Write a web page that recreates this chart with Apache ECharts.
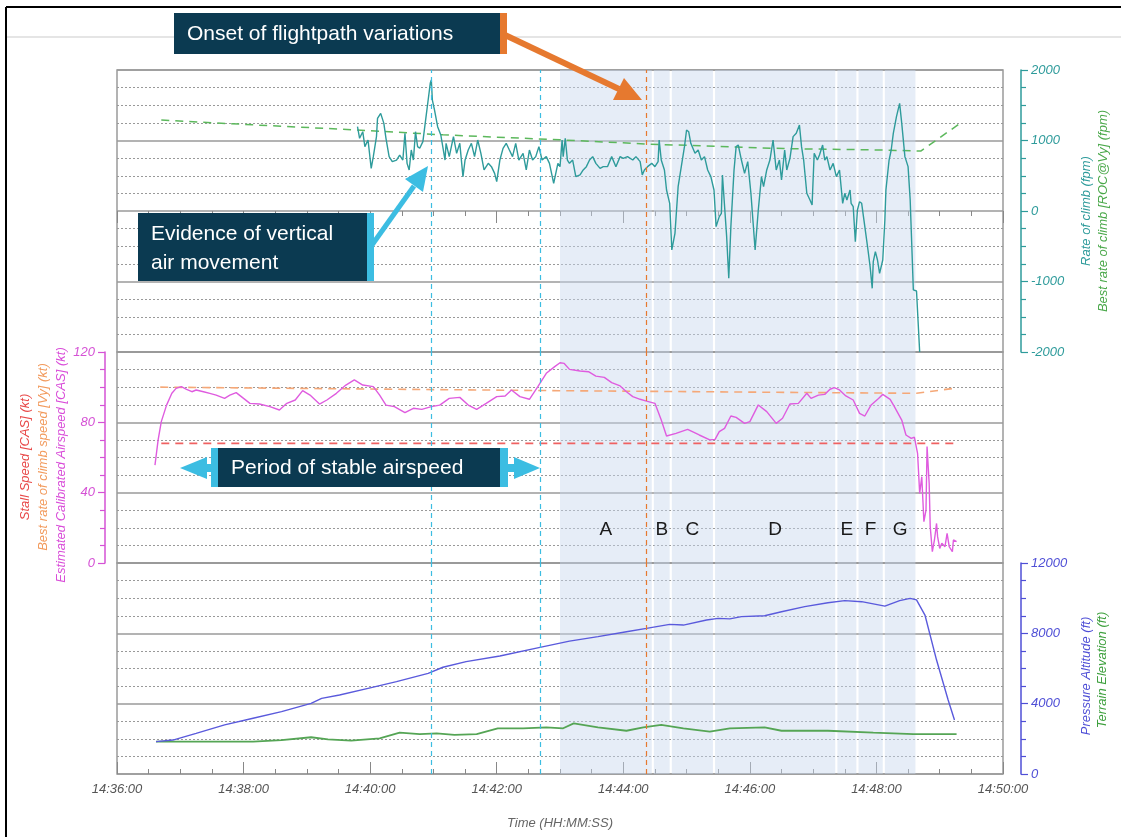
<!DOCTYPE html>
<html><head><meta charset="utf-8">
<script src="https://cdn.jsdelivr.net/npm/echarts@6/dist/echarts.min.js"></script>
<style>html,body{margin:0;padding:0;background:#fff}#c{width:1121px;height:837px}</style>
</head><body><div id="c"></div><script>
// time axis: seconds after 14:36:00
const xTickLabels = ['14:36:00','14:38:00','14:40:00','14:42:00','14:44:00','14:46:00','14:48:00','14:50:00'];

// Rate of climb (fpm)
const rocData = [
[228,1196],[230,1031],[233,1125],[235,913],[238,1007],[241,605],[243,771],[246,1054],[247,1314],[250,1385],[253,1243],[255,1031],[258,771],[261,700],[265,723],[268,794],[271,723],[273,1102],[275,676],[277,582],[279,865],[281,723],[283,1125],[285,913],[287,889],[290,984],[291,1007],[293,1338],[295,1574],[297,1811],[298,1858],[299,1574],[301,1433],[304,1196],[307,1078],[311,723],[312,960],[315,771],[319,1054],[322,818],[325,960],[328,487],[330,723],[333,865],[336,960],[339,771],[342,1007],[345,818],[348,582],[352,676],[355,629],[358,534],[360,416],[363,723],[366,889],[369,960],[372,865],[375,771],[378,960],[381,723],[385,818],[388,582],[391,865],[394,723],[397,771],[400,913],[403,723],[407,771],[410,676],[414,393],[418,676],
[420,629],[422,1007],[423,771],[425,1031],[427,723],[429,676],[432,723],[435,487],[439,511],[442,582],[445,629],[448,723],[451,771],[454,676],[458,605],[461,629],[465,629],[469,771],[473,629],[477,771],[480,747],[484,771],[489,723],[492,771],[496,700],[498,511],[500,582],[503,629],[507,676],[510,629],[513,700],[514,1007],[516,723],[519,582],[521,298],[524,109],[526,-553],[529,-317],[532,345],[535,629],[538,913],[540,1149],[542,1125],[544,960],[548,818],[551,865],[554,723],[557,771],[560,582],[563,487],[566,298],[568,-222],[571,-80],[573,-33],[574,511],[578,-364],[580,-955],[582,-222],[585,582],[587,913],[589,936],[592,723],[595,534],[598,700],[601,251],[605,-553],[608,14],[611,487],[613,345],[616,582],[619,723],[622,1007],[625,582],[628,723],[630,440],[633,865],[635,582],[638,747],[641,1055],[644,1102],[647,1220],[649,913],[651,723],[654,251],[657,156],[659,85],[661,818],[664,723],[666,794],[669,936],[671,723],[673,771],[676,582],[679,676],[682,487],[685,582],[688,109],[690,251],[692,156],[695,298],[696,109],[698,61],[700,-435],[702,14],[704,132],[706,109],[709,-222],[712,-553],[714,-789],[716,-1097],[717,-719],[719,-577],[721,-695],[723,-884],[726,-695],[728,-128],[729,298],[732,723],[734,865],[736,1102],[739,1338],[742,1527],[744,1243],[747,771],[750,629],[752,156],[754,-695],[755,-1120],[758,-1135],[759,-1135],[761,-2000]
];
// Best rate of climb [ROC@Vy] (fpm)
const bestRocData = [[42,1290],[132,1220],[227,1150],[309,1080],[420,1010],[502,950],[632,885],[727,865],[762,850],[799,1240]];
// Estimated calibrated airspeed (kt)
const casData = [
[36,55.7],[39,70],[42,80.4],[47,89.8],[52,96.5],[56,99.3],[61,100.3],[66,98.8],[71,97.4],[75,98.4],[82,97.4],[88,96.5],[94,95.5],[102,93.6],[107,95.5],[113,96.9],[120,93.6],[126,90.8],[135,90.4],[145,88.9],[154,87],[161,90.8],[169,92.7],[176,98],[183,95.5],[192,90.4],[199,92.7],[208,96.5],[217,101.2],[225,104.1],[233,101.2],[243,100.3],[249,95.5],[255,89.8],[263,88.9],[273,85.5],[281,88],[289,87.4],[298,88.9],[306,89.8],[315,93.6],[325,94.2],[333,89.8],[341,87.4],[350,90.8],[360,94.6],[368,95],[374,98.4],[382,94.6],[391,93.1],[399,100.3],[407,107.9],[415,111.7],[420,113.9],[424,113.5],[429,110.1],[439,109.2],[447,108.8],[454,106.3],[462,105.6],[469,102.6],[477,100.7],[483,97.4],[489,94.6],[496,93.1],[502,92.1],[510,90.8],[516,81.3],[521,72.2],[530,73.7],[541,76],[552,72.8],[562,70],[567,70.3],[571,74.7],[576,76.6],[582,83.6],[587,82.8],[595,79.4],[600,80.4],[608,89.9],[616,86.1],[625,79.4],[631,82.3],[638,90.4],[646,90.8],[654,96.5],[658,93.6],[665,95.5],[671,95.9],[676,98.8],[680,99.7],[685,98.4],[691,95],[698,92.7],[704,85.1],[709,83.6],[715,89.9],[722,93.6],[726,95.9],[733,93.1],[737,88.9],[744,81.3],[748,72.8],[753,70.9],[756,71.5],[759,62.4],[761,39.6],[763,49.1],[765,23.5],[767,30.1],[768,66.2],[770,45.3],[771,20.7],[773,6.4],[775,13.1],[777,22.5],[778,15],[780,8.3],[782,11.2],[785,9.3],[787,16.9],[789,9.3],[792,6.4],[793,13.1],[796,12.1]
];
// Best rate of climb speed [Vy] (kt)
const vyData = [[41,100],[420,98],[758,96.5],[793,99.3]];
// Stall speed [CAS] (kt)
const stallData = [[42,68],[793,68]];
// Pressure altitude (ft)
const altData = [[37,1840],[53,1930],[75,2310],[102,2790],[129,3170],[156,3550],[184,4020],[194,4300],[211,4490],[238,4870],[265,5250],[295,5720],[309,6070],[331,6390],[363,6710],[401,7200],[429,7560],[456,7810],[483,8090],[502,8280],[524,8510],[537,8470],[559,8760],[570,8850],[581,8820],[592,8950],[614,9000],[630,9230],[652,9520],[674,9740],[690,9860],[706,9800],[728,9550],[742,9860],[752,9990],[758,9900],[766,9040],[777,6480],[788,4210],[794,3070]];
// Terrain elevation (ft)
const terrainData = [[37,1840],[75,1840],[129,1840],[156,1930],[184,2090],[200,1970],[222,1900],[249,2030],[268,2350],[287,2270],[303,2310],[320,2220],[341,2270],[361,2600],[385,2600],[407,2650],[423,2600],[433,2880],[456,2650],[483,2460],[499,2650],[516,2790],[537,2600],[562,2410],[581,2600],[614,2650],[630,2460],[674,2460],[717,2350],[755,2270],[796,2270]];
// Shaded phases
const regionNames = ['A','B','C','D','E','F','G'];
const regionStart = [420,509,526,567,683,703,728];
const regionEnd   = [507,524,565,681,701,726,757];
// Event markers (seconds)
const cyanMarkers = [298,401];
const orangeMarker = [502];

const FONT = '"Liberation Sans", Arial, sans-serif';
const TEAL = '#2e9b9b', GREENL = '#5cb85c', MAG = '#df5cdf', VY = '#f5a878', STALL = '#f06262', BLUE = '#5a5adc', TGREEN = '#55a555';
const NAVY = '#0b3a51', CYAN = '#3cbde2', ORANGE = '#e6792f';
const GRIDC = '#9a9a9a';

const chart = echarts.init(document.getElementById('c'), null, {renderer:'canvas'});

const gridCommon = {left:117, right:118, show:true, borderColor:GRIDC, borderWidth:1.5, outerBoundsMode:'none', containLabel:false};
function xAx(i, extra){
  return Object.assign({gridIndex:i, type:'value', min:0, max:840, interval:120,
    axisLine:{show:false}, splitLine:{show:false}, axisLabel:{show:false},
    axisTick:{show:false}, minorTick:{show:false}}, extra||{});
}
function yAx(i, min, max, interval, pos, offset, color){
  return {gridIndex:i, type:'value', min:min, max:max, interval:interval, position:pos, offset:offset,
    axisLine:{show:true, onZero:false, lineStyle:{color:color, width:1.5}},
    axisTick:{show:true, length:7, lineStyle:{color:color, width:1.2}},
    minorTick:{show:true, splitNumber:4, length:5, lineStyle:{color:color, width:1.2}},
    axisLabel:{color:color, fontStyle:'italic', fontSize:13, fontFamily:FONT, margin:10, formatter:v=>String(v)},
    splitLine:{show:true, lineStyle:{color:GRIDC, width:1.5}},
    minorSplitLine:{show:true, lineStyle:{color:'#999', width:1, type:[2,2]}}};
}
const tickCommon = {axisTick:{show:true, inside:true, length:12, lineStyle:{color:'#888', width:1}},
  minorTick:{show:true, splitNumber:4, length:5, lineStyle:{color:'#888', width:1}}};

function regionSeries(gi, withLabels){
  return {type:'line', xAxisIndex:gi, yAxisIndex:gi, data:[], z:1, silent:true,
    markArea:{silent:true, itemStyle:{color:'rgba(200,215,238,0.45)'},
      label:{show:withLabels, position:'insideBottom', distance:24, color:'#1a1a1a', fontSize:19, fontFamily:FONT, formatter:'{b}'},
      data: regionNames.map((n,k)=>[{name:n, xAxis:regionStart[k]},{xAxis:regionEnd[k]}])},
    markLine:{silent:true, symbol:['none','none'], label:{show:false},
      data: cyanMarkers.map(v=>({xAxis:v, lineStyle:{color:CYAN, type:[5,4], width:1.2}}))
        .concat(orangeMarker.map(v=>({xAxis:v, lineStyle:{color:ORANGE, type:[5,4], width:1.2}})))}
  };
}
function lineS(gi, data, color, width, dash){
  return {type:'line', xAxisIndex:gi, yAxisIndex:gi, data:data, symbol:'none', showSymbol:false, z:3,
    lineStyle:{color:color, width:width, type:dash||'solid'}, silent:true};
}

function vtext(x, y, text, color){
  return {type:'text', x:x, y:y, rotation:Math.PI/2, z:100,
    style:{text:text, fill:color, font:'italic 13px '+FONT, textAlign:'center', textVerticalAlign:'middle'}};
}
function rect(x,y,w,h,fill){ return {type:'rect', z:100, shape:{x:x,y:y,width:w,height:h}, style:{fill:fill}}; }
function htext(x,y,t){ return {type:'text', x:x, y:y, z:101, style:{text:t, fill:'#ffffff', font:'21px '+FONT, textAlign:'left', textVerticalAlign:'middle'}}; }
function seg(x1,y1,x2,y2,c,w){ return {type:'line', z:100, shape:{x1:x1,y1:y1,x2:x2,y2:y2}, style:{stroke:c, lineWidth:w}}; }
function poly(pts,c){ return {type:'polygon', z:100, shape:{points:pts}, style:{fill:c}}; }

const option = {
  animation:false,
  backgroundColor:'#ffffff',
  grid:[
    Object.assign({top:70, height:282}, gridCommon),
    Object.assign({top:352, height:211}, gridCommon),
    Object.assign({top:563, height:211}, gridCommon)
  ],
  xAxis:[
    xAx(0, Object.assign({position:'top'}, tickCommon)),
    xAx(1),
    xAx(2, Object.assign({position:'bottom',
      axisLabel:{show:true, color:'#555', fontStyle:'italic', fontSize:13, fontFamily:FONT, margin:9,
        formatter:v=>xTickLabels[Math.round(v/120)]},
      name:'Time (HH:MM:SS)', nameLocation:'middle', nameGap:43,
      nameTextStyle:{color:'#666', fontStyle:'italic', fontSize:13, fontFamily:FONT}}, tickCommon))
  ],
  yAxis:[
    yAx(0, -2000, 2000, 1000, 'right', 18, TEAL),
    yAx(1, 0, 120, 40, 'left', 12, '#d552d5'),
    yAx(2, 0, 12000, 4000, 'right', 18, '#4f4fd6')
  ],
  series:[
    regionSeries(0,false), regionSeries(1,true), regionSeries(2,false),
    lineS(0, bestRocData, GREENL, 1.5, [8,6]),
    lineS(0, rocData, TEAL, 1.4),
    lineS(1, vyData, VY, 1.6, [8,6]),
    lineS(1, stallData, STALL, 1.8, [8,6]),
    lineS(1, casData, MAG, 1.4),
    lineS(2, terrainData, TGREEN, 1.8),
    lineS(2, altData, BLUE, 1.4)
  ],
  graphic:[
    seg(6,7,1121,7,'#000',2), seg(6,7,6,837,'#000',2), seg(7,37,1121,37,'#dddddd',1.5),
    vtext(1086,211,'Rate of climb (fpm)',TEAL),
    vtext(1103,211,'Best rate of climb [ROC@Vy] (fpm)','#4aa84a'),
    vtext(25,457,'Stall Speed [CAS] (kt)','#e84848'),
    vtext(43,457,'Best rate of climb speed [Vy] (kt)','#f29a5c'),
    vtext(61,465,'Estimated Calibrated Airspeed [CAS] (kt)','#d94dd9'),
    vtext(1086,676,'Pressure Altitude (ft)','#4f4fd6'),
    vtext(1102,670,'Terrain Elevation (ft)','#3ea03e'),
    // Onset annotation
    rect(174,13,326,41,NAVY), rect(500,13,7,41,ORANGE), htext(187,34,'Onset of flightpath variations'),
    seg(505,35,619,89,ORANGE,6), poly([[642,100],[613,100],[624,78]],ORANGE),
    // Evidence annotation
    rect(138,213,229,68,NAVY), rect(367,213,7,68,CYAN),
    htext(151,234,'Evidence of vertical'), htext(151,263,'air movement'),
    seg(372,245,414,186,CYAN,5), poly([[428,166],[423,192],[405,179]],CYAN),
    // Period annotation
    rect(218,448,282,39,NAVY), rect(211,448,7,39,CYAN), rect(500,448,8,39,CYAN),
    rect(205,464,7,8,CYAN), rect(508,464,8,8,CYAN),
    poly([[180,468],[207,457],[207,479]],CYAN), poly([[540,468],[514,457],[514,479]],CYAN),
    htext(231,468,'Period of stable airspeed')
  ]
};
chart.setOption(option);
</script></body></html>
